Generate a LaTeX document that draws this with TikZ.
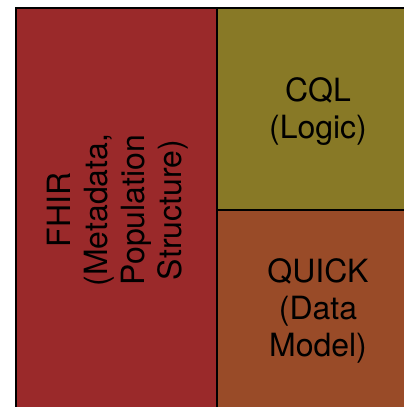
\documentclass[tikz,border=0pt]{standalone}
\usepackage{fontspec}
\setmainfont{TeX Gyre Heros}
\definecolor{fhirred}{RGB}{154,41,42}
\definecolor{cqlolive}{RGB}{136,121,38}
\definecolor{quickrust}{RGB}{153,75,40}
\begin{document}
\begin{tikzpicture}[x=1pt,y=-1pt,
  border/.style={draw=black,line width=2pt},
  lbl/.style={font=\fontsize{32}{37}\selectfont,align=center,inner sep=0pt,text=black}]
\useasboundingbox (0,0) rectangle (404,407);
\fill[fhirred] (16,8) rectangle (217,407);
\fill[cqlolive] (217,8) rectangle (404,210);
\fill[quickrust] (217,210) rectangle (404,407);
\draw[border] (16,407) -- (16,8) -- (404,8);
\draw[border] (217,8) -- (217,407);
\draw[border] (217,210) -- (404,210);
\node[lbl,rotate=90] (fhir) at (118,210) {FHIR\\(Metadata,\\Population\\Structure)};
\node[lbl] (cql) at (318,112) {CQL\\(Logic)};
\node[lbl] (quick) at (318,311) {QUICK\\(Data\\Model)};
\end{tikzpicture}
\end{document}
